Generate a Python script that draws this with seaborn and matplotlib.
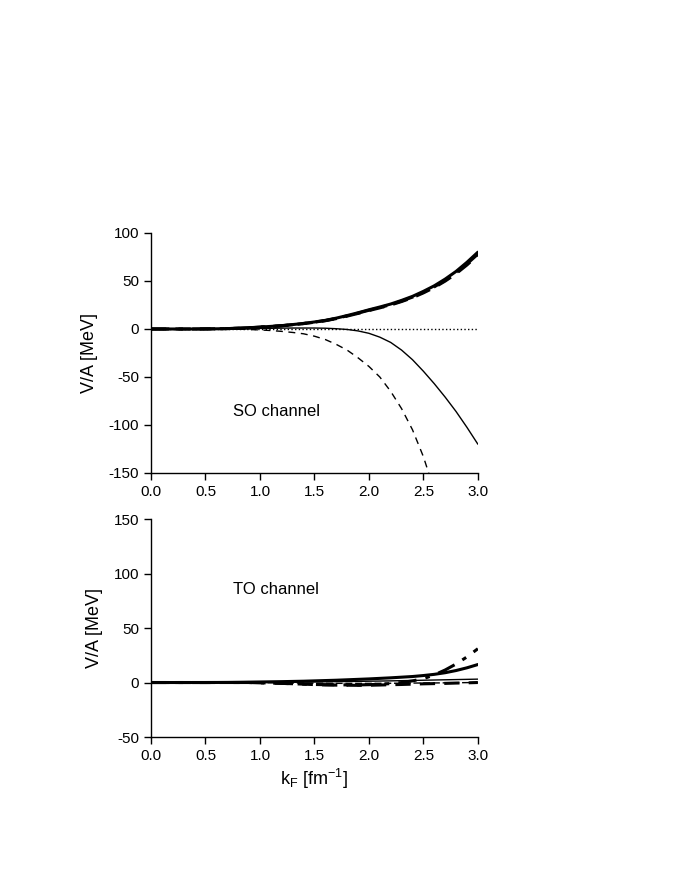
"""V/A against k_F in the SO and TO channels, two stacked panels."""
import matplotlib
matplotlib.use('Agg')
import matplotlib.pyplot as plt
import seaborn as sns

kf = [0.0, 0.1, 0.2, 0.3, 0.4, 0.5, 0.6, 0.7, 0.8, 0.9,
      1.0, 1.1, 1.2, 1.3, 1.4, 1.5, 1.6, 1.7, 1.8, 1.9,
      2.0, 2.1, 2.2, 2.3, 2.4, 2.5, 2.6, 2.7, 2.8, 2.9, 3.0]

# SO channel
so_thick_solid = [0, 0, 0, 0, 0, 0.1, 0.2, 0.4, 0.8, 1.3,
                  2.0, 2.7, 3.5, 4.6, 5.8, 7.3, 9.0, 11.3, 14.0, 16.9,
                  20.0, 22.9, 26.0, 29.8, 34.0, 39.2, 45.0, 52.0, 60.0, 69.5, 80.0]
so_thick_dash = [0, 0, 0, 0, 0, 0.1, 0.2, 0.4, 0.7, 1.2,
                 1.9, 2.6, 3.3, 4.4, 5.6, 7.0, 8.6, 10.8, 13.4, 16.2,
                 19.2, 22.0, 25.0, 28.6, 32.6, 37.6, 43.2, 49.9, 57.6, 66.7, 77.0]
so_thick_dashdot = [0, 0, 0, 0, 0, 0.1, 0.2, 0.4, 0.8, 1.3,
                    2.0, 2.6, 3.4, 4.5, 5.7, 7.1, 8.8, 11.0, 13.7, 16.5,
                    19.5, 22.3, 25.4, 29.1, 33.2, 38.2, 43.9, 50.7, 58.5, 67.8, 78.0]
so_thin_solid = [0, 0, 0, 0, 0, 0, 0.1, 0.2, 0.3, 0.4,
                 0.6, 0.7, 0.9, 1.0, 1.0, 1.0, 0.8, 0.3, -0.5, -2.0,
                 -4.5, -8.5, -14, -22, -32, -44, -57, -71, -86, -102.5, -120]
so_thin_dash = [0, 0, 0, 0, 0, 0, 0, 0, -0.2, -0.5,
                -1.0, -1.6, -2.5, -3.6, -5.0, -7.5, -11, -16, -22, -30,
                -39, -50, -65, -83, -105, -133, -168, -210, -260, -315, -380]
so_zero = [0] * len(kf)

# TO channel
to_thick_solid = [0, 0, 0, 0, 0, 0, 0.05, 0.1, 0.2, 0.35,
                  0.5, 0.65, 0.8, 1.0, 1.2, 1.5, 1.8, 2.1, 2.5, 2.9,
                  3.3, 3.8, 4.3, 4.9, 5.5, 6.4, 7.5, 9.0, 11.0, 13.5, 16.5]
to_thick_dashdot = [0, 0, 0, 0, 0, 0, 0, 0, 0, 0,
                    -0.3, -0.5, -0.8, -1.1, -1.5, -1.8, -2.0, -2.1, -2.2, -2.2,
                    -2.0, -1.6, -1.0, 0, 1.5, 3.5, 7, 11.5, 17, 23.5, 31]
to_thick_dash = [0, 0, 0, 0, 0, 0, 0, 0, 0, 0,
                 -0.3, -0.5, -0.8, -1.1, -1.5, -1.9, -2.2, -2.4, -2.5, -2.6,
                 -2.5, -2.3, -2.0, -1.8, -1.5, -1.2, -1.0, -0.8, -0.5, -0.3, 0]
to_thin_solid = [0, 0, 0, 0, 0, 0, 0, 0, 0.1, 0.15,
                 0.2, 0.25, 0.3, 0.4, 0.5, 0.6, 0.7, 0.8, 0.9, 1.05,
                 1.2, 1.35, 1.5, 1.7, 1.9, 2.1, 2.3, 2.5, 2.7, 2.9, 3.1]
to_thin_dash = [0, 0, 0, 0, 0, 0, 0, 0, 0, 0,
                -0.1, -0.2, -0.3, -0.4, -0.5, -0.6, -0.7, -0.75, -0.8, -0.8,
                -0.8, -0.75, -0.7, -0.6, -0.5, -0.45, -0.4, -0.3, -0.2, -0.1, 0]

sns.set_style('ticks')
plt.rcParams['font.family'] = ['Liberation Sans', 'DejaVu Sans']
plt.rcParams['mathtext.fontset'] = 'custom'
plt.rcParams['mathtext.rm'] = 'Liberation Sans'
plt.rcParams['axes.unicode_minus'] = False
plt.rcParams['text.color'] = 'black'
plt.rcParams['axes.labelcolor'] = 'black'

fig = plt.figure(figsize=(6.74, 8.72), dpi=100)
ax1 = fig.add_axes([0.224, 0.4576, 0.485, 0.2752])
ax2 = fig.add_axes([0.224, 0.1548, 0.485, 0.25])

THICK = 2.2
THIN = 1.0


def draw(ax, y, lw, ls):
    sns.lineplot(x=kf, y=y, ax=ax, color='black', lw=lw, linestyle=ls)


draw(ax1, so_zero, THIN, ':')
draw(ax1, so_thin_dash, THIN, (0, (5, 4)))
draw(ax1, so_thin_solid, THIN, '-')
draw(ax1, so_thick_dashdot, THICK, (0, (6, 3, 1.5, 3)))
draw(ax1, so_thick_dash, THICK, (0, (5, 3)))
draw(ax1, so_thick_solid, THICK, '-')

draw(ax2, to_thin_dash, THIN, (0, (5, 2)))
draw(ax2, to_thin_solid, THIN, '-')
draw(ax2, to_thick_dash, THICK, (0, (5, 3)))
draw(ax2, to_thick_dashdot, THICK, (0, (6, 3, 1.5, 3)))
draw(ax2, to_thick_solid, THICK, '-')

ax1.set_ylim(-150, 100)
ax1.set_yticks([-150, -100, -50, 0, 50, 100])
ax2.set_ylim(-50, 150)
ax2.set_yticks([-50, 0, 50, 100, 150])

for ax in (ax1, ax2):
    ax.set_xlim(0, 3.0)
    ax.set_xticks([0.0, 0.5, 1.0, 1.5, 2.0, 2.5, 3.0])
    ax.set_xticklabels(['0.0', '0.5', '1.0', '1.5', '2.0', '2.5', '3.0'])
    ax.tick_params(direction='out', length=5, width=1, labelsize=11, colors='black')
    ax.set_ylabel('V/A [MeV]', fontsize=13, labelpad=8)
    for side in ('left', 'bottom'):
        ax.spines[side].set_linewidth(1)
        ax.spines[side].set_color('black')
    sns.despine(ax=ax)

ax1.text(0.75, -86, 'SO channel', fontsize=12, va='center', ha='left')
ax2.text(0.75, 85, 'TO channel', fontsize=12, va='center', ha='left')
ax2.set_xlabel(r'k$_\mathrm{F}$ [fm$^{-1}$]', fontsize=13, labelpad=3)

fig.savefig('out.png', dpi=100)
